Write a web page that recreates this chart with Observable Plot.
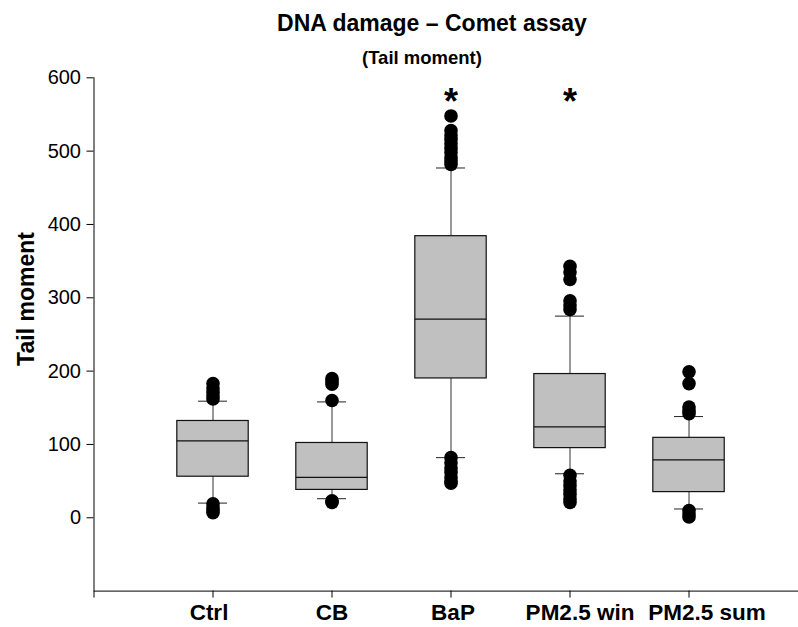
<!DOCTYPE html>
<html>
<head>
<meta charset="utf-8">
<script src="https://cdn.jsdelivr.net/npm/d3@7"></script>
<script src="https://cdn.jsdelivr.net/npm/@observablehq/plot@0.6"></script>
<style>
  html, body { margin: 0; padding: 0; background: white; }
  #wrap { position: relative; width: 798px; height: 627px; font-family: "Liberation Sans", Arial, sans-serif; }
  #wrap > svg.overlay { position: absolute; left: 0; top: 0; pointer-events: none; }
  #chart { position: absolute; left: 0; top: 0; }
</style>
</head>
<body>
<div id="wrap">
  <div id="chart"></div>
  <svg class="overlay" width="798" height="627" font-family="Liberation Sans, Arial, sans-serif">
    <text x="432" y="31" text-anchor="middle" font-size="23" font-weight="bold">DNA damage – Comet assay</text>
    <text x="422" y="64" text-anchor="middle" font-size="18.5" font-weight="bold">(Tail moment)</text>
    <text transform="translate(34,299) rotate(-90)" text-anchor="middle" font-size="23" font-weight="bold">Tail moment</text>
  </svg>
</div>
<script>
// ---- data ----
const categories = ["Ctrl", "CB", "BaP", "PM2.5 win", "PM2.5 sum"];
const q1 = [56, 38, 190, 95, 35];
const median = [105, 55, 271, 124, 79];
const q3 = [132, 102, 384, 196, 109];
const lowerWhisker = [20, 26, 82, 60, 12];
const upperWhisker = [159, 158, 477, 275, 138];
const outliersCtrl = [183, 177, 171, 166, 162, 19, 14, 10, 7];
const outliersCB = [190, 186, 182, 160, 23, 21];
const outliersBaP = [548, 528, 522, 516, 510, 504, 498, 492, 487, 482, 82, 75, 68, 62, 55, 50, 47];
const outliersWin = [343, 335, 325, 296, 290, 284, 58, 50, 44, 38, 32, 26, 21];
const outliersSum = [199, 183, 151, 146, 142, 10, 5, 1];
const significant = [false, false, true, true, false];
const starY = 574;
const yTicks = [0, 100, 200, 300, 400, 500, 600];
const yDomain = [-100, 600];

// ---- derived tables ----
const pos = categories.map((c, i) => i + 1);
const boxes = categories.map((c, i) => ({
  x: pos[i], q1: q1[i], med: median[i], q3: q3[i], lo: lowerWhisker[i], hi: upperWhisker[i]
}));
const outlierLists = [outliersCtrl, outliersCB, outliersBaP, outliersWin, outliersSum];
const outlierRows = outlierLists.flatMap((list, i) => list.map(v => ({ x: pos[i], y: v })));
const stars = categories.map((c, i) => ({ x: pos[i], y: starY, s: significant[i] })).filter(d => d.s);
const xMax = 5.92;
const bw = 0.3, cw = 0.122;
// label nudges (style only, px) to mimic the reference placement
const labelNudge = [-4, 0, 2, 10, 18];

const labelMarks = categories.map((c, i) =>
  Plot.text([c], {
    x: () => pos[i], frameAnchor: "bottom", dy: 29, dx: labelNudge[i],
    text: d => d, fontSize: 22.5, fontWeight: "bold", fill: "black", lineAnchor: "bottom"
  })
);

const chart = Plot.plot({
  width: 798,
  height: 627,
  marginLeft: 93.5,
  marginRight: 0,
  marginTop: 77.3,
  marginBottom: 36.4,
  x: { type: "linear", domain: [0, xMax], axis: null },
  y: { domain: yDomain, axis: null },
  style: { fontFamily: "Liberation Sans, Arial, sans-serif", background: "white", color: "black", overflow: "visible" },
  marks: [
    // whiskers
    Plot.ruleX(boxes, { x: "x", y1: "q3", y2: "hi", stroke: "#333", strokeWidth: 1 }),
    Plot.ruleX(boxes, { x: "x", y1: "lo", y2: "q1", stroke: "#333", strokeWidth: 1 }),
    // caps
    Plot.ruleY(boxes, { y: "hi", x1: d => d.x - cw, x2: d => d.x + cw, stroke: "#222", strokeWidth: 1 }),
    Plot.ruleY(boxes, { y: "lo", x1: d => d.x - cw, x2: d => d.x + cw, stroke: "#222", strokeWidth: 1 }),
    // boxes
    Plot.rect(boxes, { x1: d => d.x - bw, x2: d => d.x + bw, y1: "q1", y2: "q3", fill: "#c0c0c0", stroke: "#111", strokeWidth: 1.2 }),
    // medians
    Plot.ruleY(boxes, { y: "med", x1: d => d.x - bw, x2: d => d.x + bw, stroke: "#111", strokeWidth: 1.2 }),
    // outliers
    Plot.dot(outlierRows, { x: "x", y: "y", r: 6.8, fill: "black", stroke: "none" }),
    // significance stars
    Plot.text(stars, { x: "x", y: "y", text: () => "*", fontSize: 36, fontWeight: "bold", dy: 6, fill: "black" }),
    // axes lines
    Plot.ruleX([0], { y1: yDomain[0], y2: yDomain[1], stroke: "black", strokeWidth: 1 }),
    Plot.ruleY([yDomain[0]], { x1: 0, x2: xMax, stroke: "black", strokeWidth: 1 }),
    Plot.axisY(yTicks, { anchor: "left", tickSize: 7, tickPadding: 6, fontSize: 20, label: null, stroke: "black" }),
    Plot.axisX([0, ...pos], {
      anchor: "bottom", tickSize: 7, label: null, stroke: "black", tickFormat: () => ""
    }),
    ...labelMarks
  ]
});
document.getElementById("chart").appendChild(chart);
</script>
</body>
</html>
